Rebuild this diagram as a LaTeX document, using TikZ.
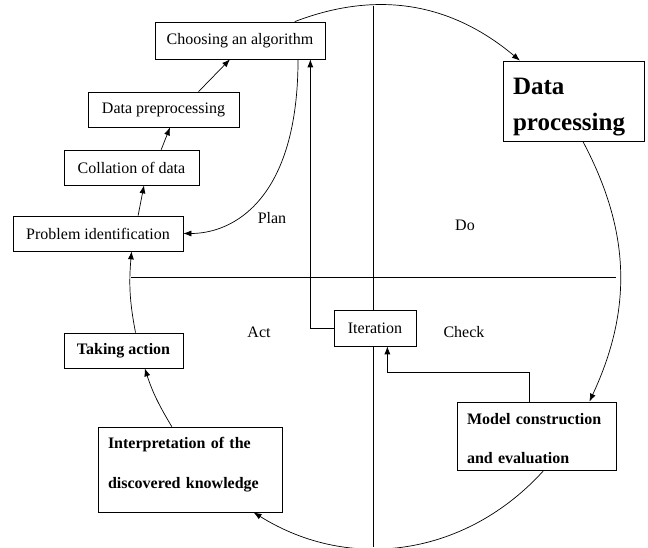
\documentclass[tikz,border=0pt]{standalone}
\usepackage{fontspec}
\setmainfont{Liberation Serif}
\usetikzlibrary{arrows.meta}

\begin{document}
\begin{tikzpicture}[x=1pt,y=1pt,>={Latex[length=8pt,width=6pt]},line width=0.7pt,
            plain box/.style={draw,fill=white,inner sep=0pt,align=center,font=\fontsize{16}{19}\selectfont},
            bold box/.style={draw,fill=white,inner xsep=10pt,inner ysep=0pt,align=left},
            phase/.style={font=\fontsize{16}{19}\selectfont}]

        \useasboundingbox (0,0) rectangle (648,548);

        % Draw axes
        \draw (373,542) -- (373,1);
        \draw (131,271) -- (616,271);

        % Define boxes
        \node[plain box,minimum width=170pt,minimum height=37pt] (choose) at (240,507.5) {Choosing an algorithm};
        \node[plain box,minimum width=151pt,minimum height=35pt] (prep) at (163.5,438.5) {Data preprocessing};
        \node[plain box,minimum width=135pt,minimum height=35pt] (coll) at (131.5,380.5) {Collation of data};
        \node[plain box,minimum width=170pt,minimum height=35pt] (probid) at (98,314.5) {Problem identification};
        \node[bold box,text width=121pt,minimum height=80pt,font=\bfseries\fontsize{25}{36}\selectfont] (dproc) at (573.5,447) {\rule{0pt}{29pt}Data\\processing};
        \node[plain box,minimum width=82pt,minimum height=36pt] (iter) at (375,220) {Iteration};
        \node[bold box,text width=139pt,minimum height=68pt,font=\bfseries\fontsize{16}{39}\selectfont] (model) at (536.5,112) {\rule{0pt}{17pt}Model construction\\and evaluation};
        \node[plain box,minimum width=119pt,minimum height=35pt,font=\bfseries\fontsize{16}{19}\selectfont] (tact) at (123.5,197.5) {Taking action};
        \node[bold box,text width=164pt,minimum height=85pt,font=\bfseries\fontsize{16}{40}\selectfont] (interp) at (190,78.5) {Interpretation of the\\discovered knowledge\rule[-13pt]{0pt}{0pt}};

        % Phase labels
        \node[phase] (plan) at (272,330) {Plan};
        \node[phase] (do) at (465,323) {Do};
        \node[phase] (act) at (259,216) {Act};
        \node[phase] (check) at (464,216) {Check};

        % Draw arrows
        \path[->]
            (probid.24) edge (coll.-55)
            (coll.31) edge (prep.-70)
            (prep.27) edge (choose.-118)
            (choose.19) edge[out=21,in=140] (dproc.143)
            (dproc.-77) edge[out=-62,in=65] (model.33)
            (model.-78) edge[out=-132,in=-32] (interp.-34)
            (interp.113) edge[out=121,in=-72] (tact.-40)
            (tact.56) edge[out=101,in=-95] (probid.-28);
        \draw[->] (choose.-18) .. controls +(0,-140) and +(50,0) .. (probid.east);
        \draw[->] (iter.west) -| (choose.-15);
        \draw[->] (model.101) -- ++(0,29) -| (iter.-56);

\end{tikzpicture}
\end{document}
